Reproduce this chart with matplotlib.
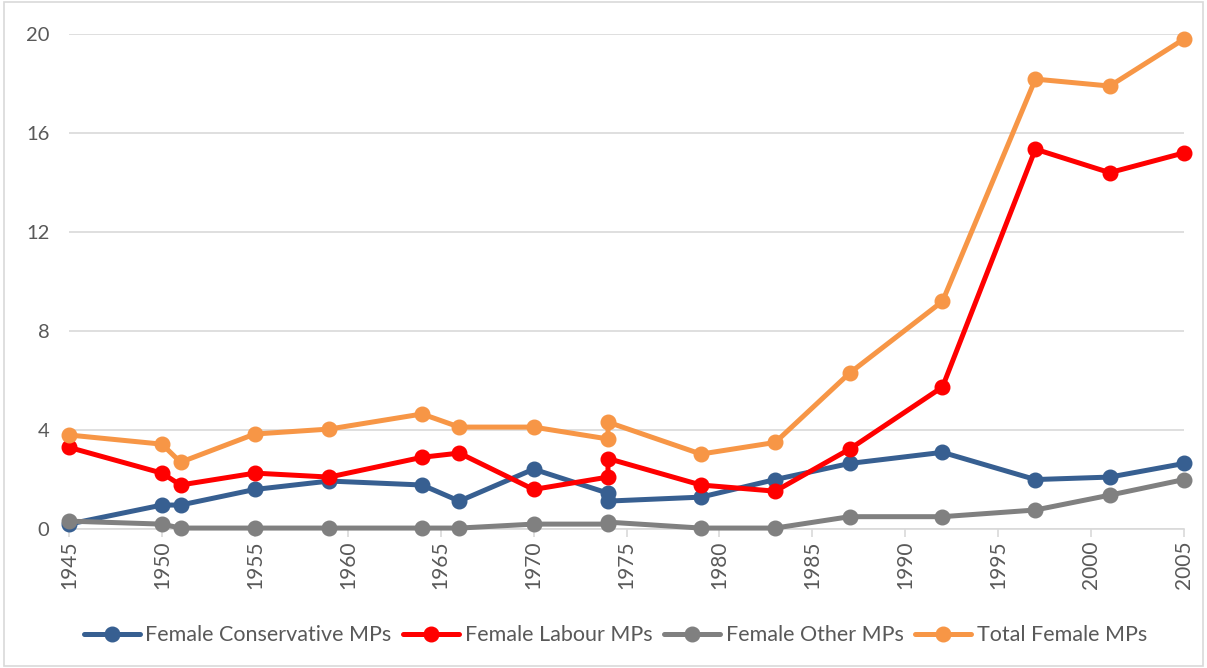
import matplotlib
matplotlib.use("Agg")
import matplotlib.pyplot as plt
from matplotlib.patches import Rectangle

plt.rcParams['font.family'] = ['Lato', 'DejaVu Sans']

years = [1945, 1950, 1951, 1955, 1959, 1964, 1966, 1970, 1974, 1974,
         1979, 1983, 1987, 1992, 1997, 2001, 2005]
conservative = [0.2, 0.97, 0.97, 1.6, 1.94, 1.78, 1.13, 2.42, 1.45, 1.13,
                1.29, 2.0, 2.65, 3.1, 2.0, 2.1, 2.65]
labour = [3.3, 2.26, 1.78, 2.26, 2.1, 2.9, 3.07, 1.6, 2.1, 2.85,
          1.78, 1.53, 3.23, 5.74, 15.35, 14.4, 15.2]
other = [0.32, 0.2, 0.04, 0.04, 0.04, 0.04, 0.04, 0.2, 0.2, 0.28,
         0.04, 0.04, 0.5, 0.5, 0.77, 1.37, 2.0]
total = [3.8, 3.43, 2.7, 3.84, 4.04, 4.65, 4.12, 4.12, 3.64, 4.32,
         3.03, 3.5, 6.3, 9.2, 18.18, 17.9, 19.8]

series = [
    ("Female Conservative MPs", conservative, "#375F91"),
    ("Female Labour MPs", labour, "#FF0000"),
    ("Female Other MPs", other, "#808080"),
    ("Total Female MPs", total, "#F79646"),
]
yticks = [0, 4, 8, 12, 16, 20]
xticks = list(range(1945, 2006, 5))

fig = plt.figure(figsize=(12.07, 6.68), dpi=100)
ax = fig.add_axes([0.0572, 0.208, 0.9238, 0.741])

for name, vals, col in series:
    ax.plot(years, vals, color=col, lw=3.6, marker='o', ms=10.5,
            label=name, solid_capstyle='round', zorder=3, clip_on=False)

ax.set_xlim(1945, 2005)
ax.set_ylim(0, 20)
ax.set_yticks(yticks)
ax.set_xticks(xticks)
ax.set_xticklabels([str(x) for x in xticks], rotation=90)
ax.grid(axis='y', color='#D9D9D9', lw=1.2, zorder=0)
for s in ['top', 'right', 'left']:
    ax.spines[s].set_visible(False)
ax.spines['bottom'].set_color('#D9D9D9')
ax.spines['bottom'].set_linewidth(1.2)
ax.tick_params(axis='y', length=0, labelsize=14.5, labelcolor='#595959', pad=14)
ax.tick_params(axis='x', length=6, color='#D9D9D9', width=1.2,
               labelsize=15, labelcolor='#595959', pad=2)

leg = ax.legend(loc='upper center', bbox_to_anchor=(0.49, -0.155), ncol=4,
                frameon=False, fontsize=15.5, handlelength=2.6,
                handletextpad=0.25, columnspacing=0.55, labelcolor='#595959')

fig.patches.append(Rectangle((0.003, 0.003), 0.994, 0.994, transform=fig.transFigure,
                             fill=False, edgecolor='#D9D9D9', lw=1.2))

fig.savefig("out.png", dpi=100)
